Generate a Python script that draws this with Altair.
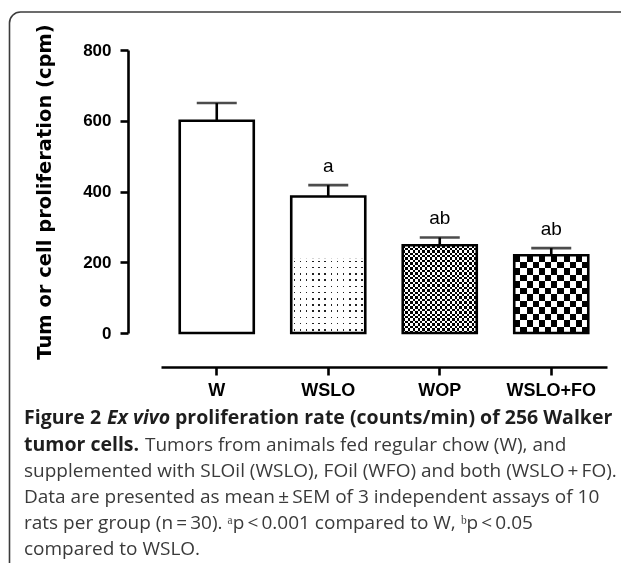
import altair as alt
import pandas as pd

# ---------------- data ----------------
groups = ["W", "WSLO", "WOP", "WSLO+FO"]
means = [600, 386, 248, 220]
sems = [50, 32, 22, 20]
sig_labels = ["", "a", "ab", "ab"]
pattern_tops = [0, 211, 248, 220]     # top of the textured fill inside each bar
y_ticks = [0, 200, 400, 600, 800]

df = pd.DataFrame({
    "group": groups,
    "mean": means,
    "upper": [m + s for m, s in zip(means, sems)],
    "sig": sig_labels,
    "fill_top": pattern_tops,
})

# ---------------- layout (page pixels) ----------------
VIEW_X, VIEW_Y = 128, 50          # page position of plot origin
W_VIEW, H_VIEW = 479, 283
SVG_W, SVG_H = 613, 555


def px(x):
    return x - VIEW_X


def py(y):
    return y - VIEW_Y


def cells(n, c1, c2, vertical, duty=0.5, phase=0.0):
    """Hard-edged stripe gradient: n periods across the bar."""
    stops = []
    for i in range(n):
        a = i / n
        p1 = (i + phase) / n
        p2 = (i + phase + duty) / n
        b = (i + 1) / n
        stops += [
            alt.GradientStop(offset=round(a, 5), color=c2),
            alt.GradientStop(offset=round(p1, 5), color=c2),
            alt.GradientStop(offset=round(p1, 5), color=c1),
            alt.GradientStop(offset=round(min(p2, 1), 5), color=c1),
            alt.GradientStop(offset=round(min(p2, 1), 5), color=c2),
            alt.GradientStop(offset=round(b, 5), color=c2),
        ]
    if vertical:
        return alt.LinearGradient(gradient="linear", stops=stops, x1=0, x2=1, y1=0, y2=0)
    return alt.LinearGradient(gradient="linear", stops=stops, x1=0, x2=0, y1=0, y2=1)


xenc = alt.X(
    "group:N", sort=groups,
    scale=alt.Scale(range=[33, 479], paddingInner=0.336, paddingOuter=0.168),
    axis=alt.Axis(
        title="", labelAngle=0, offset=34, domainColor="black", domainWidth=2.6,
        tickColor="black", tickWidth=2.6, tickSize=8, labelFont="Liberation Sans",
        labelFontSize=18, labelFontWeight="bold", labelColor="black", labelPadding=6,
    ),
)
yscale = alt.Scale(domain=[0, 800], nice=False)
yaxis = alt.Axis(
    values=y_ticks, title="Tum or cell proliferation (cpm)", grid=False,
    domainColor="black", domainWidth=2.6, tickColor="black", tickWidth=2.6, tickSize=8,
    labelFont="Liberation Sans", labelFontSize=17, labelFontWeight="bold", labelColor="black",
    labelPadding=9, titleFont="DejaVu Sans", titleFontSize=19.5, titleFontWeight="bold",
    titleColor="black", titlePadding=28,
)


def yenc(field):
    return alt.Y(f"{field}:Q", scale=yscale, axis=yaxis)


base = alt.Chart(df)

bars_white = base.mark_bar(fill="white").encode(x=xenc, y=yenc("mean"))

# WSLO: dotted lower part (dots = lighten of two stripe sets)
dot_v = base.transform_filter(alt.datum.group == "WSLO").mark_bar(
    fill=cells(12, "#222222", "white", True, duty=0.26, phase=0.37)
).encode(x=xenc, y=yenc("fill_top"))
dot_h = base.transform_filter(alt.datum.group == "WSLO").mark_bar(
    fill=cells(12, "#222222", "white", False, duty=0.26, phase=0.37), blend="lighten"
).encode(x=xenc, y=yenc("fill_top"))

# WOP: fine checkerboard
wop_v = base.transform_filter(alt.datum.group == "WOP").mark_bar(
    fill=cells(15, "black", "white", True)
).encode(x=xenc, y=yenc("fill_top"))
wop_h = base.transform_filter(alt.datum.group == "WOP").mark_bar(
    fill=cells(18, "black", "white", False), blend="difference"
).encode(x=xenc, y=yenc("fill_top"))

# WSLO+FO: coarse checkerboard
ck_v = base.transform_filter(alt.datum.group == "WSLO+FO").mark_bar(
    fill=cells(6, "black", "white", True)
).encode(x=xenc, y=yenc("fill_top"))
ck_h = base.transform_filter(alt.datum.group == "WSLO+FO").mark_bar(
    fill=cells(6, "black", "white", False), blend="difference"
).encode(x=xenc, y=yenc("fill_top"))

outline = base.mark_bar(fillOpacity=0, stroke="black", strokeWidth=2.6).encode(
    x=xenc, y=yenc("mean"))
err = base.mark_rule(color="black", strokeWidth=2.6).encode(
    x=xenc, y=yenc("mean"), y2="upper")
cap = base.mark_tick(color="black", size=40, thickness=2.6).encode(x=xenc, y=yenc("upper"))
sig = base.mark_text(dy=-13, baseline="alphabetic", fontSize=19, font="Liberation Sans",
                     color="black").encode(x=xenc, y=yenc("upper"), text="sig")

# ---------------- frame and caption ----------------
one = alt.Data(values=[{"k": 1}])
frame = alt.Chart(one).mark_rect(
    fillOpacity=0, stroke="#3c3c3c", strokeWidth=1.6, cornerRadius=11
).encode(x=alt.value(px(9.5)), x2=alt.value(px(660)), y=alt.value(py(12)), y2=alt.value(py(700)))

CAP_FONT = "Open Sans"
BOLD_COL = "#1e1e1e"
REG_COL = "#3a3a3a"
FB = 19.5
FR = 19.0
L = [424, 450.5, 477, 503, 529, 554.5]
caption_segments = [
    # (text, x_page, baseline_page, weight, style, size, color)
    ("Figure 2", 24, L[0], "bold", "normal", FB, BOLD_COL),
    ("Ex vivo", 107, L[0], "bold", "italic", FB, BOLD_COL),
    ("proliferation rate (counts/min) of 256 Walker", 175, L[0], "bold", "normal", FB, BOLD_COL),
    ("tumor cells.", 24, L[1], "bold", "normal", FB, BOLD_COL),
    ("Tumors from animals fed regular chow (W), and", 145, L[1], "normal", "normal", FR, REG_COL),
    ("supplemented with SLOil (WSLO), FOil (WFO) and both (WSLO\u2009+\u2009FO).", 24, L[2],
     "normal", "normal", FR, REG_COL),
    ("Data are presented as mean\u2009±\u2009SEM of 3 independent assays of 10", 24, L[3],
     "normal", "normal", FR, REG_COL),
    ("rats per group (n\u2009=\u200930). \u1d43p\u2009<\u20090.001 compared to W, \u1d47p\u2009<\u20090.05",
     24, L[4], "normal", "normal", FR, REG_COL),
    ("compared to WSLO.", 24, L[5], "normal", "normal", FR, REG_COL),
]
caption_layers = []
for text, xp, yp, wt, st, size, col in caption_segments:
    caption_layers.append(
        alt.Chart(one).mark_text(
            text=text, align="left", baseline="alphabetic", font=CAP_FONT,
            fontSize=size, fontWeight=wt, fontStyle=st, color=col,
        ).encode(x=alt.value(px(xp)), y=alt.value(py(yp)))
    )

chart = alt.layer(
    frame, bars_white, dot_v, dot_h, wop_v, wop_h, ck_v, ck_h, outline, err, cap, sig,
    *caption_layers,
).properties(
    width=W_VIEW, height=H_VIEW,
    autosize=alt.AutoSizeParams(type="none"),
    padding={"left": VIEW_X - 8, "top": VIEW_Y - 8,
             "right": SVG_W - (VIEW_X - 8) - W_VIEW,
             "bottom": SVG_H - (VIEW_Y - 8) - H_VIEW},
).configure_view(stroke="transparent")

chart.save("out.html", embed_options={"renderer": "svg", "actions": False})
